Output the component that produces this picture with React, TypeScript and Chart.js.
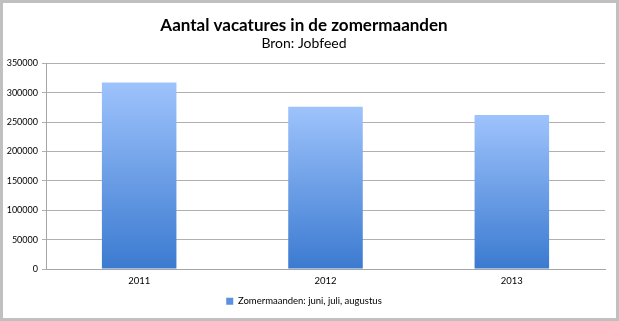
import React, { useEffect, useRef } from "react";
import { Chart, registerables } from "chart.js";

Chart.register(...registerables);

const categories = ["2011", "2012", "2013"];
const seriesLabel = "Zomermaanden: juni, juli, augustus";
const seriesValues = [317000, 276000, 262000];
const titleText = "Aantal vacatures in de zomermaanden";
const subtitleText = "Bron: Jobfeed";

const FONT = "Lato, 'Open Sans', sans-serif";

export default function App() {
  const ref = useRef<HTMLCanvasElement | null>(null);

  useEffect(() => {
    document.body.style.margin = "0";
    const canvas = ref.current;
    if (!canvas) return;
    const chart = new Chart(canvas, {
      type: "bar",
      data: {
        labels: categories,
        datasets: [
          {
            label: seriesLabel,
            data: seriesValues,
            backgroundColor: (ctx: any) => {
              const c = ctx.chart;
              const y = c.scales && c.scales.y;
              if (!y || ctx.raw == null) return "#6a9ce6";
              const top = y.getPixelForValue(ctx.raw);
              const bottom = y.getPixelForValue(0);
              if (!isFinite(top) || !isFinite(bottom)) return "#6a9ce6";
              const g = c.ctx.createLinearGradient(0, top, 0, bottom);
              g.addColorStop(0, "#9ec3fc");
              g.addColorStop(1, "#3b7ad0");
              return g;
            },
            borderWidth: 0,
            categoryPercentage: 1,
            barPercentage: 0.4,
          },
        ],
      },
      options: {
        animation: false,
        responsive: false,
        maintainAspectRatio: false,
        layout: { padding: { left: 0, right: 11, top: 0, bottom: 2 } },
        plugins: {
          title: {
            display: true,
            text: titleText,
            color: "#000",
            font: { family: FONT, size: 17, weight: "bold", lineHeight: 1.2 },
            padding: { top: 12, bottom: 0 },
          },
          subtitle: {
            display: true,
            text: subtitleText,
            color: "#000",
            font: { family: FONT, size: 14, lineHeight: 1.2 },
            padding: { top: 0, bottom: 11 },
          },
          legend: {
            position: "bottom",
            labels: {
              font: { family: FONT, size: 9.5 },
              color: "#000",
              boxWidth: 7,
              boxHeight: 7,
              padding: 8,
              generateLabels: () => [
                {
                  text: seriesLabel,
                  fillStyle: "#5b8fe0",
                  strokeStyle: "#5b8fe0",
                  lineWidth: 0,
                  hidden: false,
                  datasetIndex: 0,
                },
              ],
            },
          },
          tooltip: { enabled: false },
        },
        scales: {
          x: {
            afterFit: (s: any) => {
              s.height -= 4;
            },
            grid: { display: false, drawTicks: false },
            border: { color: "#a6a6a6", width: 1 },
            ticks: {
              color: "#000",
              font: { family: FONT, size: 9.5 },
              padding: 6,
            },
          },
          y: {
            min: 0,
            max: 350000,
            afterFit: (s: any) => {
              s.width = 43;
            },
            grid: {
              color: "#b0b0b0",
              lineWidth: 1,
              drawTicks: true,
              tickLength: 4,
            },
            border: { color: "#a6a6a6", width: 1 },
            ticks: {
              stepSize: 50000,
              color: "#000",
              font: { family: FONT, size: 9 },
              padding: 4,
              callback: (v: any) => String(v),
            },
          },
        },
      },
    });
    return () => chart.destroy();
  }, []);

  return (
    <div
      style={{
        width: 619,
        height: 321,
        border: "3px solid #c0c0c0",
        boxSizing: "border-box",
        background: "#fff",
      }}
    >
      <canvas ref={ref} width={613} height={315} style={{ display: "block" }} />
    </div>
  );
}
